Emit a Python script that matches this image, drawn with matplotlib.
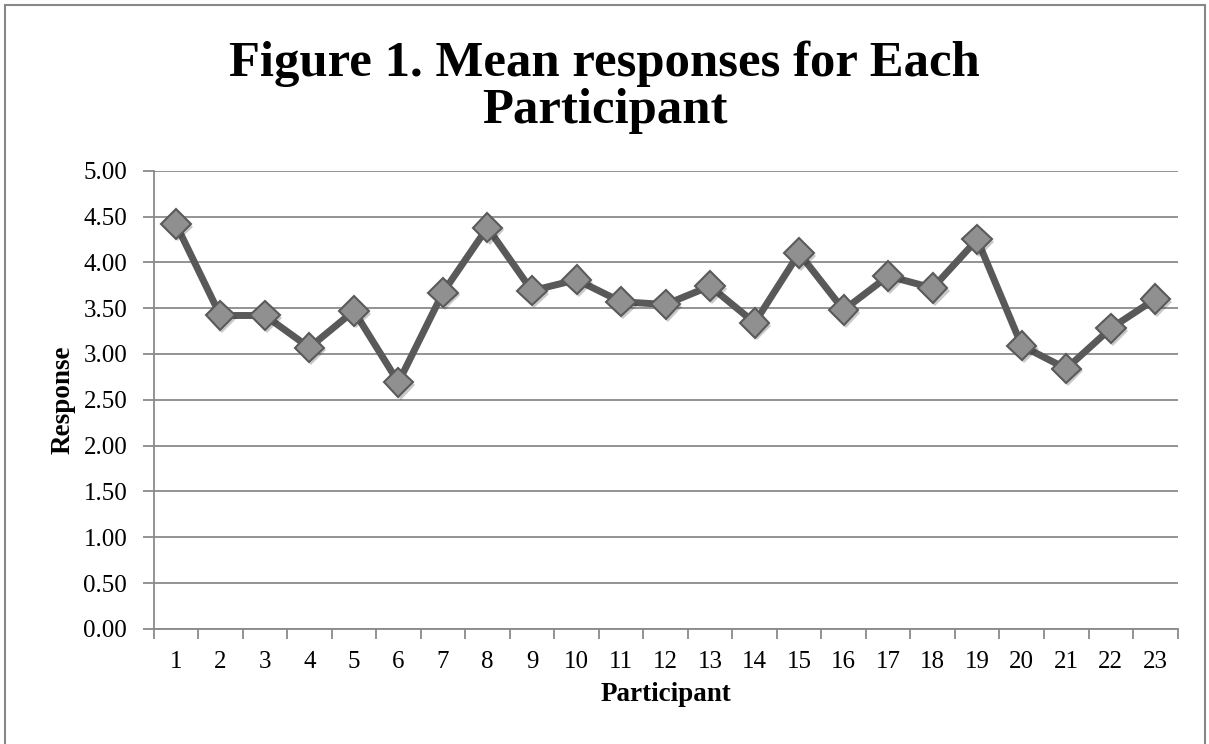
import matplotlib.pyplot as plt
import matplotlib.patheffects as pe
from matplotlib.patches import Rectangle
from matplotlib.ticker import FixedLocator, MultipleLocator

# mean response per participant
participants = list(range(1, 24))
responses = [4.42, 3.42, 3.42, 3.07, 3.47, 2.69, 3.67, 4.38, 3.69, 3.81, 3.57, 3.54,
             3.74, 3.34, 4.10, 3.48, 3.85, 3.72, 4.25, 3.09, 2.84, 3.28, 3.60]

plt.rcParams['font.family'] = ['Liberation Serif', 'DejaVu Serif']

fig = plt.figure(figsize=(12.09, 7.44), dpi=100)
ax = fig.add_axes([0.127, 0.1546, 0.847, 0.616])

# outer chart border
fig.patches.append(Rectangle((5/1209, -0.01), 1200/1209, 0.9933 + 0.01, transform=fig.transFigure,
                             fill=False, edgecolor='#888888', linewidth=1.5))

ax.plot(participants, responses, color='#595959', linewidth=5, zorder=3)
ax.plot(participants, responses, linestyle='none', marker='D', markersize=15,
        markerfacecolor='#909090', markeredgecolor='#5a5a5a', markeredgewidth=1.5, zorder=4,
        path_effects=[pe.SimplePatchShadow(offset=(1.5, -2), alpha=0.25), pe.Normal()])

ax.set_xlim(0.5, 23.5)
ax.set_ylim(0, 5)
ax.yaxis.set_major_locator(MultipleLocator(0.5))
ax.set_yticklabels([f"{v:.2f}" for v in ax.get_yticks()])
ax.set_xticks(participants)
ax.set_xticklabels([str(p) for p in participants])
ax.xaxis.set_minor_locator(FixedLocator([p + 0.5 for p in range(0, 24)]))

ax.grid(axis='y', color='#8a8a8a', linewidth=1.3, zorder=0)
for s in ['top', 'right']:
    ax.spines[s].set_visible(False)
for s in ['left', 'bottom']:
    ax.spines[s].set_color('#8a8a8a')
    ax.spines[s].set_linewidth(1.3)

ax.tick_params(axis='x', which='major', length=0, pad=16, labelsize=18)
ax.tick_params(axis='x', which='minor', length=7, width=1.3, color='#8a8a8a')
ax.tick_params(axis='y', length=8, width=1.3, color='#8a8a8a', pad=11, labelsize=18)

ax.set_xlabel('Participant', fontsize=19.5, fontweight='bold', labelpad=6)
ax.set_ylabel('Response', fontsize=19.5, fontweight='bold', labelpad=6)

fig.text(0.5, 0.883, 'Figure 1. Mean responses for Each\nParticipant', ha='center', va='center',
         fontsize=36.5, fontweight='bold', linespacing=1.02)

fig.savefig('out.png', dpi=100)
